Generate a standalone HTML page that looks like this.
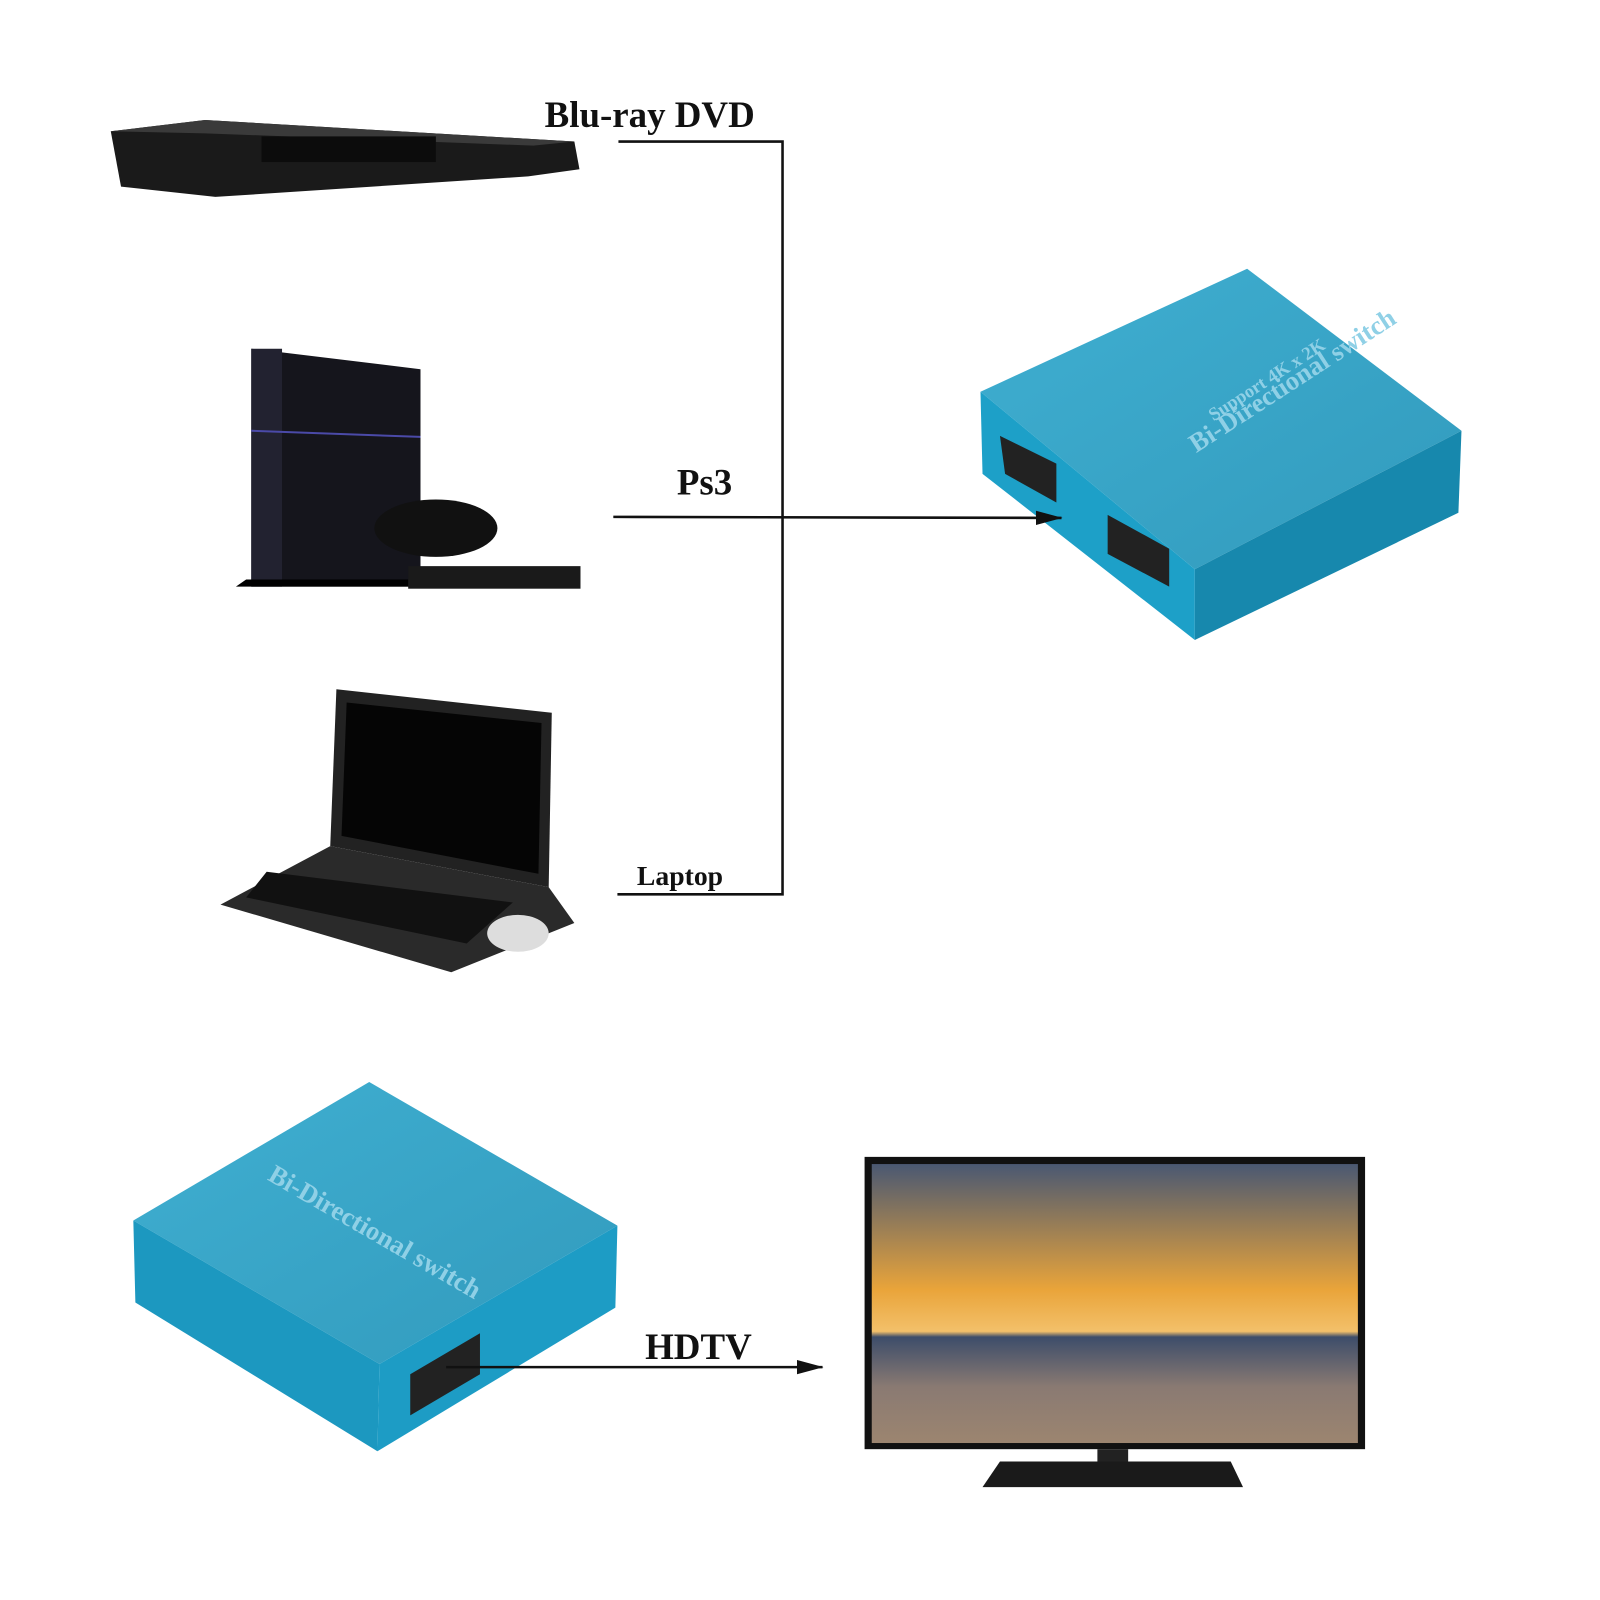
<!DOCTYPE html>
<html><head><meta charset="utf-8"><style>
html,body{margin:0;padding:0;background:#fff}
svg{display:block}
text{font-family:"Liberation Serif",serif;font-weight:bold;fill:#111}
</style></head><body>
<svg width="1600" height="1600" viewBox="0 0 1600 1600" xmlns="http://www.w3.org/2000/svg">
<defs>
<linearGradient id="blue" x1="0" y1="0" x2="1" y2="1"><stop offset="0" stop-color="#2aa6cc"/><stop offset="1" stop-color="#1b8fb5"/></linearGradient>
<linearGradient id="sky" x1="0" y1="0" x2="0" y2="1"><stop offset="0" stop-color="#4a5872"/><stop offset="0.45" stop-color="#e9a43a"/><stop offset="0.6" stop-color="#f3c06a"/><stop offset="0.62" stop-color="#3d4d6a"/><stop offset="0.8" stop-color="#8a7a72"/><stop offset="1" stop-color="#9c8570"/></linearGradient>
<marker id="ar" markerWidth="26" markerHeight="14" refX="25" refY="7" orient="auto" markerUnits="userSpaceOnUse"><path d="M0,0 L26,7 L0,14 z" fill="#111"/></marker>
</defs>
<g transform="scale(1.0256)">
<!-- Blu-ray player -->
<polygon points="108,128 200,117 560,138 565,165 515,172 210,192 118,182" fill="#1a1a1a"/>
<polygon points="108,128 200,117 560,138 520,142 200,130" fill="#3a3a3a"/>
<rect x="255" y="133" width="170" height="25" fill="#0c0c0c"/>
<!-- PS4 -->
<polygon points="245,340 410,360 410,572 245,572" fill="#15151c"/>
<polygon points="245,340 275,340 275,572 245,572" fill="#222230"/>
<line x1="245" y1="420" x2="410" y2="426" stroke="#4b4aa8" stroke-width="2"/>
<polygon points="230,572 410,572 410,565 240,565" fill="#000"/>
<ellipse cx="425" cy="515" rx="60" ry="28" fill="#111"/>
<rect x="398" y="552" width="168" height="22" fill="#1a1a1a"/>
<!-- Laptop -->
<polygon points="328,672 538,695 535,865 322,825" fill="#222"/>
<polygon points="338,685 528,705 525,852 333,815" fill="#050505"/>
<polygon points="322,825 535,865 560,900 440,948 215,882" fill="#2a2a2a"/>
<polygon points="260,850 500,880 455,920 240,875" fill="#111"/>
<ellipse cx="505" cy="910" rx="30" ry="18" fill="#ddd"/>
<!-- Top switch -->
<polygon points="956,382 1216,262 1425,420 1165,555" fill="url(#blue)" opacity="0.9"/>
<polygon points="956,382 1165,555 1165,624 958,462" fill="#1da0c8"/>
<polygon points="1165,555 1425,420 1422,500 1165,624" fill="#1788ad"/>
<polygon points="975,425 1030,452 1030,490 980,462" fill="#222"/>
<polygon points="1080,502 1140,535 1140,572 1080,540" fill="#222"/>
<text x="1160" y="420" transform="rotate(-33 1200 420)" font-size="26" style="fill:#8fd0e6">Bi-Directional switch</text>
<text x="1180" y="400" transform="rotate(-33 1200 400)" font-size="18" style="fill:#8fd0e6">Support 4K x 2K</text>
<!-- Bottom switch -->
<polygon points="130,1190 360,1055 602,1195 370,1330" fill="url(#blue)" opacity="0.9"/>
<polygon points="130,1190 370,1330 368,1415 132,1270" fill="#1c98c0"/>
<polygon points="370,1330 602,1195 600,1275 368,1415" fill="#1d9cc5"/>
<polygon points="400,1340 468,1300 468,1340 400,1380" fill="#222"/>
<text x="260" y="1150" transform="rotate(30 260 1150)" font-size="26" style="fill:#8fd0e6">Bi-Directional switch</text>
<!-- TV -->
<rect x="843" y="1128" width="488" height="285" fill="#111"/>
<rect x="850" y="1135" width="474" height="272" fill="url(#sky)"/>
<rect x="1070" y="1413" width="30" height="20" fill="#222"/>
<polygon points="975,1425 1200,1425 1212,1450 958,1450" fill="#1a1a1a"/>
<!-- Lines -->
<g stroke="#111" stroke-width="2.5" fill="none">
<polyline points="603,138 763,138 763,872 602,872"/>
<line x1="598" y1="504" x2="1035" y2="505" marker-end="url(#ar)"/>
<line x1="435" y1="1333" x2="802" y2="1333" marker-end="url(#ar)"/>
</g>
<text x="531" y="124" font-size="36">Blu-ray DVD</text>
<text x="660" y="482" font-size="36">Ps3</text>
<text x="621" y="863" font-size="27">Laptop</text>
<text x="629" y="1325" font-size="36">HDTV</text>
</g>
</svg>
</body></html>
